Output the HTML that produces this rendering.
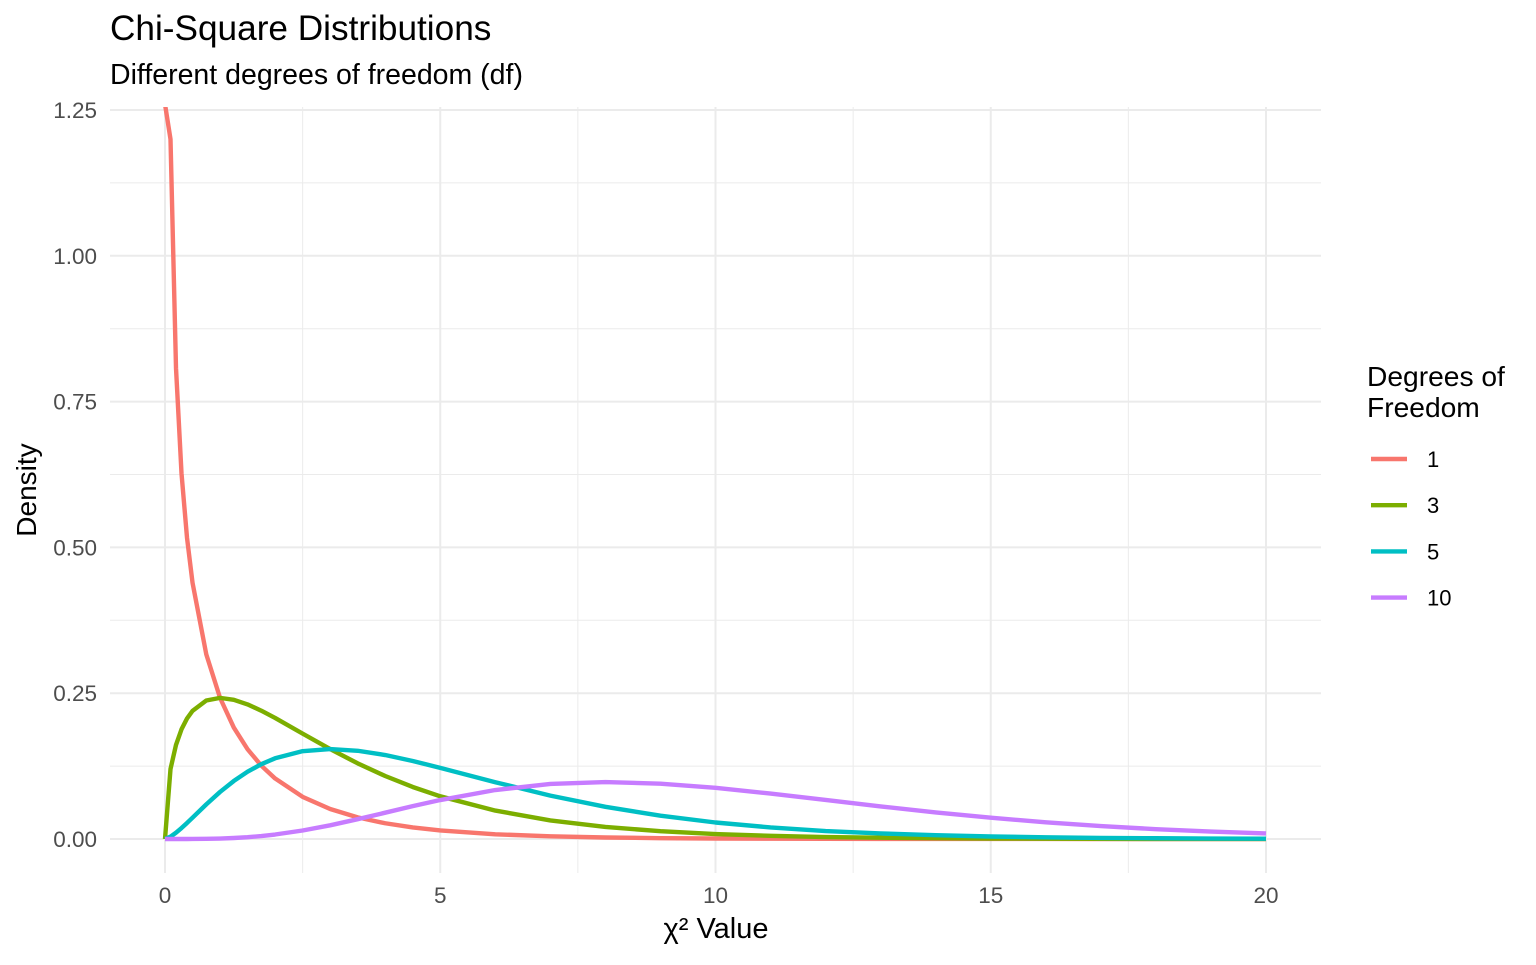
<!DOCTYPE html>
<html><head><meta charset="utf-8">
<style>
body{margin:0;background:#fff;font-family:"Liberation Sans",sans-serif;}
svg text{font-family:"Liberation Sans",sans-serif;}
</style></head>
<body>
<svg id="chart" width="1536" height="960">
<text x="110" y="40" font-size="35.2" fill="#000">Chi-Square Distributions</text>
<text x="110" y="84" font-size="28.5" fill="#000">Different degrees of freedom (df)</text>
<defs><clipPath id="pclip"><rect x="110" y="107" width="1211" height="766"/></clipPath></defs>
<g id="grid"></g>
<g id="series" clip-path="url(#pclip)"></g>
<g id="axes"></g>
<text x="716" y="938" font-size="29" text-anchor="middle" fill="#000">χ² Value</text>
<text transform="translate(36,490) rotate(-90)" font-size="28" text-anchor="middle" fill="#000">Density</text>
<g>
<text x="1367" y="386" font-size="28.2" fill="#000">Degrees of</text>
<text x="1367" y="417" font-size="28.2" fill="#000">Freedom</text>
<g id="legend-items"></g>
</g>
</svg>
<script>
const xVals=[0,0.1,0.2,0.3,0.4,0.5,0.75,1,1.25,1.5,1.75,2,2.5,3,3.5,4,4.5,5,6,7,8,9,10,11,12,13,14,15,16,17,18,19,20];
const df1=[1.26,1.2000,0.8072,0.6269,0.5164,0.4394,0.3166,0.2420,0.1910,0.1539,0.1257,0.1038,0.0723,0.0514,0.0371,0.0270,0.0198,0.01465,0.00811,0.00455,0.00258,0.00148,0.00085,0.00049,0.00029,0.00017,0.0001,0.00006,0.00003,0.00002,0.00001,0.00001,0];
const df3=[0,0.1200,0.1614,0.1881,0.2066,0.2197,0.2375,0.2420,0.2387,0.2308,0.2200,0.2076,0.1807,0.1542,0.1297,0.1080,0.0892,0.0732,0.0487,0.0319,0.0207,0.0133,0.0085,0.0054,0.0034,0.0022,0.0014,0.00085,0.00054,0.00033,0.00021,0.00013,0.00008];
const df5=[0,0.0040,0.0108,0.0188,0.0275,0.0366,0.0594,0.0807,0.0995,0.1154,0.1283,0.1384,0.1506,0.1542,0.1513,0.1440,0.1338,0.1220,0.0974,0.0744,0.0552,0.0399,0.0283,0.0198,0.0136,0.0095,0.0065,0.0043,0.0029,0.0019,0.0013,0.0008,0.0005];
const df10=[0,0,0,0,0.00001,0.00006,0.00028,0.00079,0.0017,0.0031,0.0051,0.0077,0.0146,0.0235,0.0340,0.0451,0.0563,0.0668,0.0840,0.0944,0.0977,0.0949,0.0877,0.0779,0.0669,0.0559,0.0456,0.0365,0.0286,0.0221,0.0169,0.0127,0.0095];
const seriesNames=["1","3","5","10"];
const xTicks=[0,5,10,15,20];
const xTickLabels=["0","5","10","15","20"];
const yTicks=[0,0.25,0.5,0.75,1.0,1.25];
const yTickLabels=["0.00","0.25","0.50","0.75","1.00","1.25"];

const NS="http://www.w3.org/2000/svg";
const colors=["#F8766D","#7CAE00","#00BFC4","#C77CFF"];
const X=v=>165+v*55.05;
const Y=v=>839-v*583.2;
function mk(tag,parent,attrs){const e=document.createElementNS(NS,tag);for(const k in attrs)e.setAttribute(k,attrs[k]);parent.appendChild(e);return e;}
const grid=document.getElementById('grid');
for(let i=0;i<xTicks.length-1;i++){const v=(xTicks[i]+xTicks[i+1])/2;
 const l=mk('line',grid,{x1:X(v),x2:X(v),y1:107,y2:873,stroke:'#ebebeb','stroke-width':1});
 
 }
for(let i=0;i<yTicks.length-1;i++){const v=(yTicks[i]+yTicks[i+1])/2;
 const l=mk('line',grid,{x1:110,x2:1321,y1:Y(v),y2:Y(v),stroke:'#ebebeb','stroke-width':1});
 
 }
const axes=document.getElementById('axes');
xTicks.forEach((v,i)=>{
 const l=mk('line',grid,{x1:X(v),x2:X(v),y1:107,y2:873,stroke:'#ebebeb','stroke-width':2});
 
 
 const t=mk('text',axes,{x:X(v),y:903,'font-size':22.5,'text-anchor':'middle',fill:'#4d4d4d'});
 t.textContent=xTickLabels[i];
 
 
});
yTicks.forEach((v,i)=>{
 const l=mk('line',grid,{x1:110,x2:1321,y1:Y(v),y2:Y(v),stroke:'#ebebeb','stroke-width':2});
 
 
 const t=mk('text',axes,{x:97,y:Y(v)+8,'font-size':22.5,'text-anchor':'end',fill:'#4d4d4d'});
 t.textContent=yTickLabels[i];
 
 
});
const series=document.getElementById('series');
[df1,df3,df5,df10].forEach((arr,si)=>{
 const d=arr.map((y,i)=>(i?'L':'M')+X(xVals[i]).toFixed(2)+','+Y(y).toFixed(2)).join('');
 const p=mk('path',series,{d:d,fill:'none',stroke:colors[si],'stroke-width':4.4,'stroke-linejoin':'round'});
 
 
});
const leg=document.getElementById('legend-items');
seriesNames.forEach((n,i)=>{
 const y=459+i*46.2;
 const l=mk('line',leg,{x1:1371,x2:1407,y1:y,y2:y,stroke:colors[i],'stroke-width':4.4});
 
 
 const t=mk('text',leg,{x:1427,y:y+8,'font-size':22,fill:'#000'});
 t.textContent=n;
 
 
});
</script>
</body></html>
